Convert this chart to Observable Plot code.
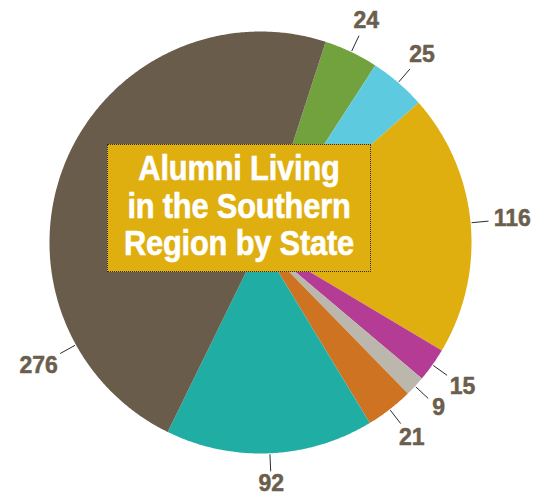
<!DOCTYPE html>
<html>
<head>
<meta charset="utf-8">
<script src="https://cdn.jsdelivr.net/npm/d3@7"></script>
<script src="https://cdn.jsdelivr.net/npm/@observablehq/plot@0.6"></script>
<style>
  html, body { margin: 0; padding: 0; background: #fff; }
  #wrap { position: relative; width: 535px; height: 496px; }
  #title {
    position: absolute; left: 107px; top: 144px; width: 264px; height: 128px;
    box-sizing: border-box; border: 1.5px dotted #2b2b2b; background: #dfae0f;
    color: #fff; font-family: "Liberation Sans", Arial, sans-serif;
    font-weight: bold; font-size: 35px; line-height: 37.5px;
    text-align: center; padding-top: 4px;
    -webkit-text-stroke: 0.6px #fff;
  }
  #title span { display: block; white-space: nowrap; transform: scaleX(0.88); transform-origin: 50% 50%; letter-spacing: -0.2px; }
  #chart svg text { font-weight: bold; }
</style>
</head>
<body>
<div id="wrap"><div id="chart"></div><div id="title"><span>Alumni Living</span><span>in the Southern</span><span>Region by State</span></div></div>
<script>
// Data (clockwise from the green slice)
const values = [24, 25, 116, 15, 9, 21, 92, 276];
const sliceColors = ["#72a23e", "#5ecae0", "#dfae0f", "#b43c95", "#bbb7ad", "#ce7321", "#20aea4", "#6a5c4a"];
const valueLabels = ["24", "25", "116", "15", "9", "21", "92", "276"];

// Layout
const W = 535, H = 496;
const cx = 260, cy = 242, R = 211;
const startDeg = 18;
const labelAngleOverrideDeg = {7: 241};

const rad = d => d * Math.PI / 180;
const pie = d3.pie().sort(null).value(d => d.value)
  .startAngle(rad(startDeg)).endAngle(rad(startDeg) + 2 * Math.PI);
const arcs = pie(values.map((v, i) => ({value: v, i, color: sliceColors[i], label: valueLabels[i]})));

const px = (a, r) => cx + r * Math.sin(a);
const py = (a, r) => cy - r * Math.cos(a);

// polygon points for each slice
const pts = [];
for (const a of arcs) {
  const i = a.data.i;
  pts.push({i, x: cx, y: cy, color: a.data.color});
  const n = Math.max(4, Math.ceil((a.endAngle - a.startAngle) / rad(0.5)));
  for (let k = 0; k <= n; k++) {
    const t = a.startAngle + (a.endAngle - a.startAngle) * k / n;
    pts.push({i, x: px(t, R), y: py(t, R), color: a.data.color});
  }
}

const labelInfo = arcs.map(a => {
  const i = a.data.i;
  const ang = labelAngleOverrideDeg[i] !== undefined ? rad(labelAngleOverrideDeg[i]) : (a.startAngle + a.endAngle) / 2;
  const hw = 6.4 * a.data.label.length, hh = 8;
  const d = R + 22 + hw * Math.abs(Math.sin(ang)) + hh * Math.abs(Math.cos(ang));
  return {
    label: a.data.label,
    x1: px(ang, R + 1), y1: py(ang, R + 1),
    x2: px(ang, R + 18), y2: py(ang, R + 18),
    lx: px(ang, d), ly: py(ang, d)
  };
});

const chart = Plot.plot({
  width: W, height: H, margin: 0,
  x: {domain: [0, W], axis: null},
  y: {domain: [H, 0], axis: null},
  color: {type: "identity"},
  marks: [
    Plot.line(pts, {x: "x", y: "y", z: "i", fill: "color", stroke: "none", curve: "linear"}),
    Plot.link(labelInfo, {x1: "x1", y1: "y1", x2: "x2", y2: "y2", stroke: "#2b2b2b", strokeWidth: 1}),
    Plot.text(labelInfo, {x: "lx", y: "ly", text: "label", fill: "#6b5e4d", stroke: "#6b5e4d", strokeWidth: 0.5,
      fontSize: 23, fontWeight: "bold", fontFamily: "Liberation Sans, Arial, sans-serif"})
  ]
});
document.getElementById("chart").appendChild(chart);
</script>
</body>
</html>
